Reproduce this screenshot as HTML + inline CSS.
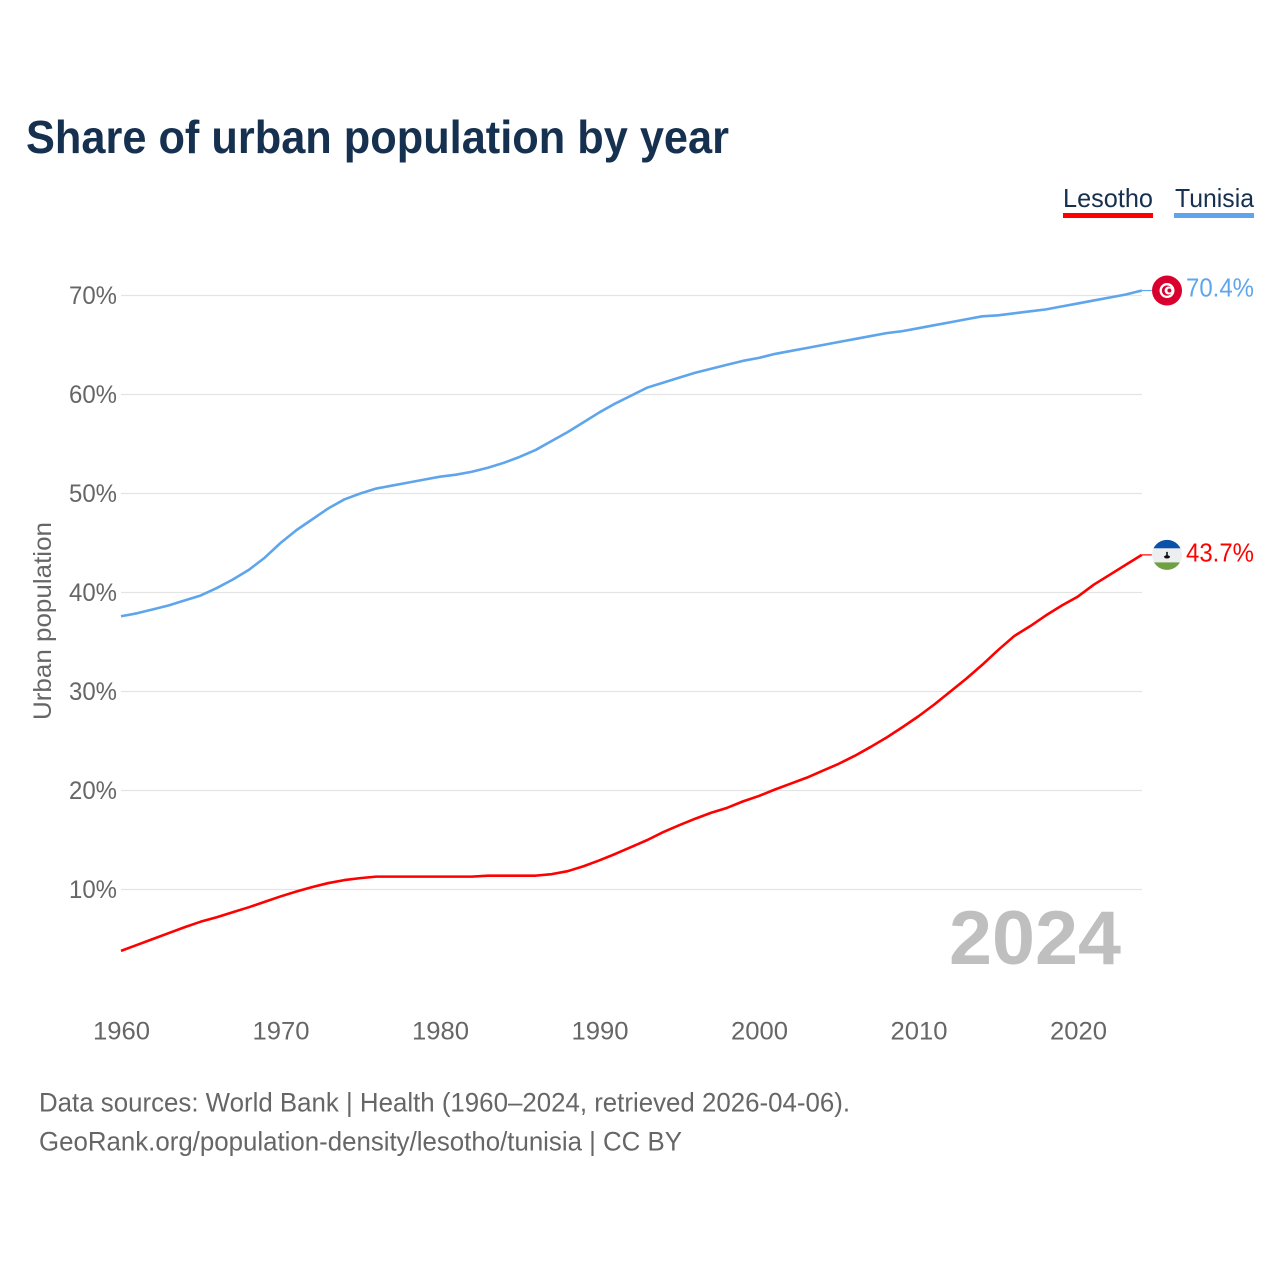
<!DOCTYPE html>
<html lang="en">
<head>
<meta charset="utf-8">
<title>Share of urban population by year</title>
<style>
html,body{margin:0;padding:0;background:#fff;}
svg{display:block;font-family:"Liberation Sans",sans-serif;}
</style>
</head>
<body>
<svg id="chart" width="1280" height="1280" viewBox="0 0 1280 1280" xmlns="http://www.w3.org/2000/svg">
  <defs>
    <clipPath id="clip-tn"><circle id="clip-tn-c" r="15"></circle></clipPath>
    <clipPath id="clip-ls"><circle id="clip-ls-c" r="15"></circle></clipPath>
  </defs>
  <rect width="1280" height="1280" fill="#fff"></rect>
  <text x="26" y="153" font-size="46" font-weight="700" fill="#16304f" textLength="703" lengthAdjust="spacingAndGlyphs">Share of urban population by year</text>

  <text x="1063" y="207" font-size="26" fill="#16304f" textLength="90" lengthAdjust="spacingAndGlyphs">Lesotho</text>
  <rect x="1063" y="213" width="90" height="5" fill="#ff0000"></rect>
  <text x="1175" y="207" font-size="26" fill="#16304f" textLength="79" lengthAdjust="spacingAndGlyphs">Tunisia</text>
  <rect x="1174" y="213" width="80" height="5" fill="#5fa5ec"></rect>

  <g id="grid"></g>
  <g id="y-ticks"></g>
  <g id="x-ticks"></g>
  <text transform="translate(51,720) rotate(-90)" font-size="25" fill="#666" textLength="198" lengthAdjust="spacingAndGlyphs">Urban population</text>

  <text x="1121" y="964" text-anchor="end" font-size="76" font-weight="700" fill="#bfbfbf" textLength="172" lengthAdjust="spacingAndGlyphs">2024</text>

  <g id="series"></g>

  <g id="flag-tn" clip-path="url(#clip-tn)"></g>
  <g id="flag-ls" clip-path="url(#clip-ls)"></g>
  <g id="end-labels"></g>

  <text x="39" y="1111.5" font-size="26.5" fill="#666" textLength="811" lengthAdjust="spacingAndGlyphs">Data sources: World Bank | Health (1960–2024, retrieved 2026-04-06).</text>
  <text x="39" y="1150.5" font-size="26.5" fill="#666" textLength="643" lengthAdjust="spacingAndGlyphs">GeoRank.org/population-density/lesotho/tunisia | CC BY</text>
</svg>
<script>
var years = [1960,1961,1962,1963,1964,1965,1966,1967,1968,1969,1970,1971,1972,1973,1974,1975,1976,1977,1978,1979,1980,1981,1982,1983,1984,1985,1986,1987,1988,1989,1990,1991,1992,1993,1994,1995,1996,1997,1998,1999,2000,2001,2002,2003,2004,2005,2006,2007,2008,2009,2010,2011,2012,2013,2014,2015,2016,2017,2018,2019,2020,2021,2022,2023,2024];
var tunisiaValues = [37.6,37.9,38.3,38.7,39.2,39.7,40.45,41.3,42.27,43.5,45.0,46.3,47.4,48.5,49.4,50.0,50.5,50.8,51.1,51.4,51.7,51.9,52.2,52.6,53.1,53.7,54.4,55.3,56.2,57.2,58.2,59.1,59.9,60.7,61.2,61.7,62.2,62.6,63.0,63.4,63.7,64.1,64.4,64.7,65.0,65.3,65.6,65.9,66.2,66.4,66.7,67.0,67.3,67.6,67.9,68.0,68.2,68.4,68.6,68.9,69.2,69.5,69.8,70.1,70.5];
var lesothoValues = [3.8,4.4,5.0,5.6,6.2,6.75,7.2,7.7,8.2,8.75,9.3,9.8,10.25,10.65,10.95,11.15,11.3,11.3,11.3,11.3,11.3,11.3,11.3,11.4,11.4,11.4,11.4,11.55,11.85,12.35,12.95,13.6,14.3,15.0,15.8,16.5,17.15,17.75,18.25,18.9,19.45,20.1,20.7,21.3,22.0,22.7,23.5,24.4,25.35,26.4,27.5,28.7,30.0,31.3,32.7,34.2,35.6,36.6,37.7,38.7,39.6,40.8,41.8,42.8,43.8];
var endLabels = ["70.4%","43.7%"];
var yTicks = [10,20,30,40,50,60,70];
var xTicks = [1960,1970,1980,1990,2000,2010,2020];

var NS = "http://www.w3.org/2000/svg";
function xScale(year){ return 121 + (year - 1960) * 15.95; }
function yScale(v){ return 889.5 - (v - 10) * 9.9; }
function make(tag, attrs, parent, text){
  var el = document.createElementNS(NS, tag);
  for (var k in attrs) el.setAttribute(k, attrs[k]);
  if (text !== undefined) el.textContent = text;
  parent.appendChild(el);
  return el;
}

var grid = document.getElementById("grid");
var yTickGroup = document.getElementById("y-ticks");
yTicks.forEach(function(t){
  var line = make("line", {x1:121, x2:1142, y1:yScale(t), y2:yScale(t), stroke:"#e4e4e4", "stroke-width":1.2}, grid);
  
  
  var label = make("text", {x:117, y:yScale(t)+8.5, "text-anchor":"end", "font-size":25, fill:"#666", textLength:48, lengthAdjust:"spacingAndGlyphs"}, yTickGroup, t + "%");
  
  
});

var xTickGroup = document.getElementById("x-ticks");
xTicks.forEach(function(t){
  var label = make("text", {x:xScale(t)+0.5, y:1039.5, "text-anchor":"middle", "font-size":25, fill:"#666", textLength:57, lengthAdjust:"spacingAndGlyphs"}, xTickGroup, String(t));
  
  
});

function pathFor(values){
  return values.map(function(v,i){
    return (i ? "L" : "M") + xScale(years[i]).toFixed(2) + " " + yScale(v).toFixed(2);
  }).join("");
}

var seriesGroup = document.getElementById("series");
var tnPath = make("path", {d:pathFor(tunisiaValues), fill:"none", stroke:"#5fa5ec", "stroke-width":2.6, "stroke-linejoin":"round"}, seriesGroup);


var lsPath = make("path", {d:pathFor(lesothoValues), fill:"none", stroke:"#ff0000", "stroke-width":2.6, "stroke-linejoin":"round"}, seriesGroup);



var lastX = xScale(years[years.length-1]);
var tnY = yScale(tunisiaValues[tunisiaValues.length-1]);
var lsY = yScale(lesothoValues[lesothoValues.length-1]);

var tnStub = make("line", {x1:lastX, x2:lastX+10, y1:tnY, y2:tnY, stroke:"#5fa5ec", "stroke-width":1.2}, seriesGroup);


var lsStub = make("line", {x1:lastX, x2:lastX+10, y1:lsY, y2:lsY, stroke:"#ff0000", "stroke-width":1.2}, seriesGroup);



var flagCx = 1167;
document.getElementById("clip-tn-c").setAttribute("cx", flagCx);
document.getElementById("clip-tn-c").setAttribute("cy", tnY);
document.getElementById("clip-ls-c").setAttribute("cx", flagCx);
document.getElementById("clip-ls-c").setAttribute("cy", lsY);

var ft = document.getElementById("flag-tn");
make("rect", {x:flagCx-15, y:tnY-15, width:30, height:30, fill:"#d9002f"}, ft);
make("circle", {cx:flagCx, cy:tnY, r:7.5, fill:"#fff"}, ft);
make("circle", {cx:flagCx, cy:tnY, r:5.2, fill:"#d9002f"}, ft);
make("circle", {cx:flagCx+1.6, cy:tnY, r:4, fill:"#fff"}, ft);
make("circle", {cx:flagCx+2.4, cy:tnY, r:2, fill:"#d9002f"}, ft);

var fl = document.getElementById("flag-ls");
make("rect", {x:flagCx-15, y:lsY-16, width:30, height:9.5, fill:"#0a52a8"}, fl);
make("rect", {x:flagCx-15, y:lsY-6.5, width:30, height:14, fill:"#eceef0"}, fl);
make("rect", {x:flagCx-15, y:lsY+7.5, width:30, height:9, fill:"#6fa144"}, fl);
make("rect", {x:flagCx-0.8, y:lsY-3, width:1.6, height:5, fill:"#111"}, fl);
make("ellipse", {cx:flagCx, cy:lsY+2, rx:3, ry:1.6, fill:"#111"}, fl);

var endGroup = document.getElementById("end-labels");
var tnLabel = make("text", {x:1254, y:tnY+6, "text-anchor":"end", "font-size":25.5, fill:"#5fa5ec", textLength:68, lengthAdjust:"spacingAndGlyphs"}, endGroup, endLabels[0]);


var lsLabel = make("text", {x:1254, y:lsY+6.5, "text-anchor":"end", "font-size":25.5, fill:"#ff0000", textLength:68, lengthAdjust:"spacingAndGlyphs"}, endGroup, endLabels[1]);


</script>
</body>
</html>
